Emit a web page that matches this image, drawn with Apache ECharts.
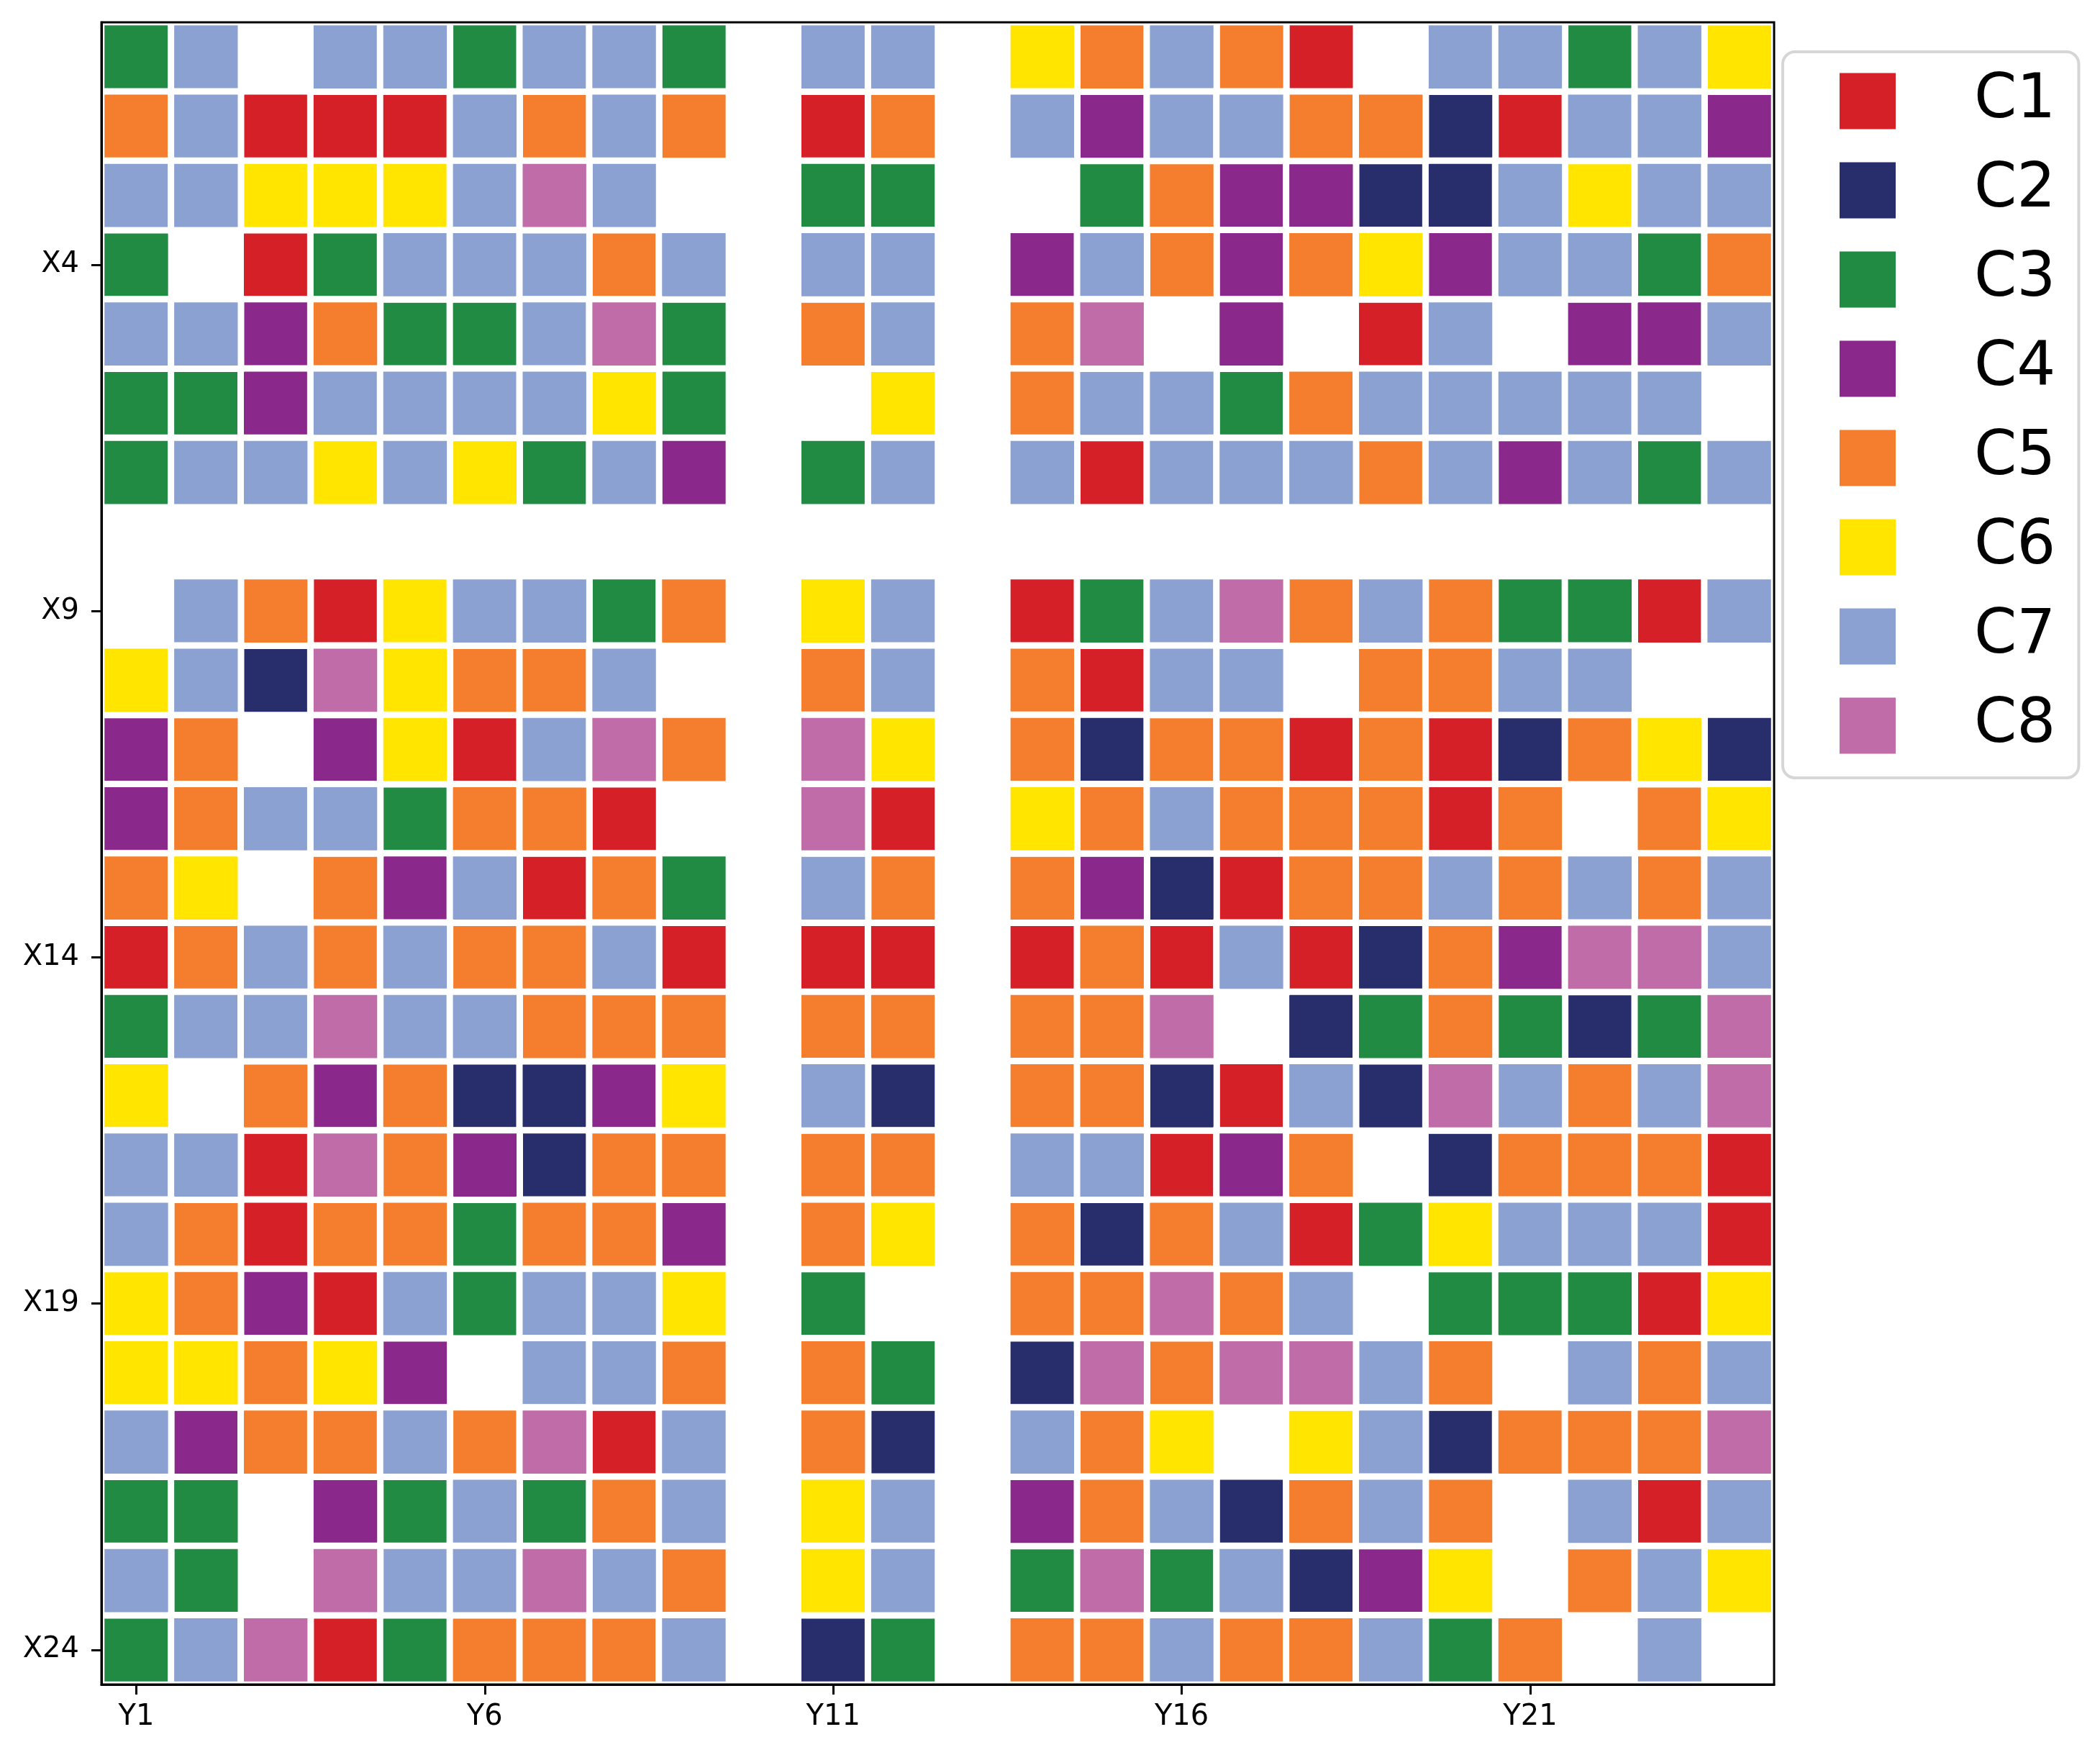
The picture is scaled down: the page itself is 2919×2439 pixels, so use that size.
<!DOCTYPE html>
<html>
<head>
<meta charset="utf-8">
<script src="https://cdn.jsdelivr.net/npm/echarts@6/dist/echarts.min.js"></script>
<style>
  html, body { margin: 0; padding: 0; background: #fff; }
  #chart { width: 2919px; height: 2439px; }
</style>
</head>
<body>
<div id="chart"></div>
<script>
// Column categories (x axis) and row categories (y axis, top to bottom)
const colLabels = Array.from({length: 24}, (_, i) => 'Y' + (i + 1));
const rowLabels = Array.from({length: 24}, (_, i) => 'X' + (i + 1));
const classNames = ['C1', 'C2', 'C3', 'C4', 'C5', 'C6', 'C7', 'C8'];
const classColors = ['#d62027', '#282d6b', '#218a43', '#8a288c', '#f47e2d', '#ffe500', '#8aa1d1', '#c06ca9'];

// Class of every cell (row X1..X24, column Y1..Y24); 0 = empty cell
const cellClass = [
  [3,7,0,7,7,3,7,7,3,0,7,7, 0, 6,5,7,5,1,0,7,7,3,7,6],
  [5,7,1,1,1,7,5,7,5,0,1,5, 0, 7,4,7,7,5,5,2,1,7,7,4],
  [7,7,6,6,6,7,8,7,0,0,3,3, 0, 0,3,5,4,4,2,2,7,6,7,7],
  [3,0,1,3,7,7,7,5,7,0,7,7, 0, 4,7,5,4,5,6,4,7,7,3,5],
  [7,7,4,5,3,3,7,8,3,0,5,7, 0, 5,8,0,4,0,1,7,0,4,4,7],
  [3,3,4,7,7,7,7,6,3,0,0,6, 0, 5,7,7,3,5,7,7,7,7,7,0],
  [3,7,7,6,7,6,3,7,4,0,3,7, 0, 7,1,7,7,7,5,7,4,7,3,7],
  [0,0,0,0,0,0,0,0,0,0,0,0, 0, 0,0,0,0,0,0,0,0,0,0,0],
  [0,7,5,1,6,7,7,3,5,0,6,7, 0, 1,3,7,8,5,7,5,3,3,1,7],
  [6,7,2,8,6,5,5,7,0,0,5,7, 0, 5,1,7,7,0,5,5,7,7,0,0],
  [4,5,0,4,6,1,7,8,5,0,8,6, 0, 5,2,5,5,1,5,1,2,5,6,2],
  [4,5,7,7,3,5,5,1,0,0,8,1, 0, 6,5,7,5,5,5,1,5,0,5,6],
  [5,6,0,5,4,7,1,5,3,0,7,5, 0, 5,4,2,1,5,5,7,5,7,5,7],
  [1,5,7,5,7,5,5,7,1,0,1,1, 0, 1,5,1,7,1,2,5,4,8,8,7],
  [3,7,7,8,7,7,5,5,5,0,5,5, 0, 5,5,8,0,2,3,5,3,2,3,8],
  [6,0,5,4,5,2,2,4,6,0,7,2, 0, 5,5,2,1,7,2,8,7,5,7,8],
  [7,7,1,8,5,4,2,5,5,0,5,5, 0, 7,7,1,4,5,0,2,5,5,5,1],
  [7,5,1,5,5,3,5,5,4,0,5,6, 0, 5,2,5,7,1,3,6,7,7,7,1],
  [6,5,4,1,7,3,7,7,6,0,3,0, 0, 5,5,8,5,7,0,3,3,3,1,6],
  [6,6,5,6,4,0,7,7,5,0,5,3, 0, 2,8,5,8,8,7,5,0,7,5,7],
  [7,4,5,5,7,5,8,1,7,0,5,2, 0, 7,5,6,0,6,7,2,5,5,5,8],
  [3,3,0,4,3,7,3,5,7,0,6,7, 0, 4,5,7,2,5,7,5,0,7,1,7],
  [7,3,0,8,7,7,8,7,5,0,6,7, 0, 3,8,3,7,2,4,6,0,5,7,6],
  [3,7,8,1,3,5,5,5,7,0,2,3, 0, 5,5,7,5,5,7,3,5,0,7,0]
];

const FONT = 'DejaVu Sans';

const seriesData = classNames.map(() => []);
cellClass.forEach((row, r) => {
  row.forEach((v, c) => {
    if (v > 0) seriesData[v - 1].push([c, r, v]);
  });
});

const series = classNames.map((name, i) => ({
  name: name,
  type: 'heatmap',
  data: seriesData[i],
  itemStyle: { color: classColors[i], borderColor: '#ffffff', borderWidth: 9 },
  emphasis: { disabled: true },
  silent: true,
  animation: false
}));

const chart = echarts.init(document.getElementById('chart'), null, { renderer: 'canvas' });
chart.setOption({
  animation: false,
  backgroundColor: '#ffffff',
  color: classColors,
  grid: {
    show: true, z: 10,
    left: 141, top: 31, width: 2325, height: 2310,
    backgroundColor: 'transparent',
    borderColor: '#000000', borderWidth: 3
  },
  visualMap: {
    type: 'piecewise', show: false, dimension: 2,
    seriesIndex: classNames.map((_, i) => i),
    pieces: classNames.map((n, i) => ({ value: i + 1, color: classColors[i] }))
  },
  xAxis: {
    type: 'category', data: colLabels, position: 'bottom', z: 10,
    axisLine: { show: true, lineStyle: { color: '#000', width: 3 } },
    axisTick: { show: true, alignWithLabel: true, length: 14, interval: 4, lineStyle: { color: '#000', width: 3 } },
    axisLabel: { show: true, interval: 4, margin: 26, fontSize: 40, fontFamily: FONT, color: '#000' },
    splitLine: { show: false }, splitArea: { show: false }
  },
  yAxis: {
    type: 'category', data: rowLabels, inverse: true, z: 10,
    axisLine: { show: true, lineStyle: { color: '#000', width: 3 } },
    axisTick: { show: true, alignWithLabel: true, length: 14,
      interval: (idx) => idx % 5 === 3, lineStyle: { color: '#000', width: 3 } },
    axisLabel: { show: true, interval: (idx) => idx % 5 === 3, margin: 31, fontSize: 40, fontFamily: FONT, color: '#000' },
    splitLine: { show: false }, splitArea: { show: false }
  },
  legend: {
    data: classNames,
    orient: 'vertical',
    left: 2478, top: 72,
    icon: 'rect',
    itemWidth: 80, itemHeight: 80, itemGap: 39,
    padding: [26, 32, 30, 77],
    backgroundColor: '#ffffff',
    borderColor: '#d6d6d6', borderWidth: 4, borderRadius: 17,
    selectedMode: false,
    textStyle: { fontSize: 85, fontFamily: FONT, color: '#000', lineHeight: 80, padding: [0, 0, 0, 103] }
  },
  series: series
});
</script>
</body>
</html>
